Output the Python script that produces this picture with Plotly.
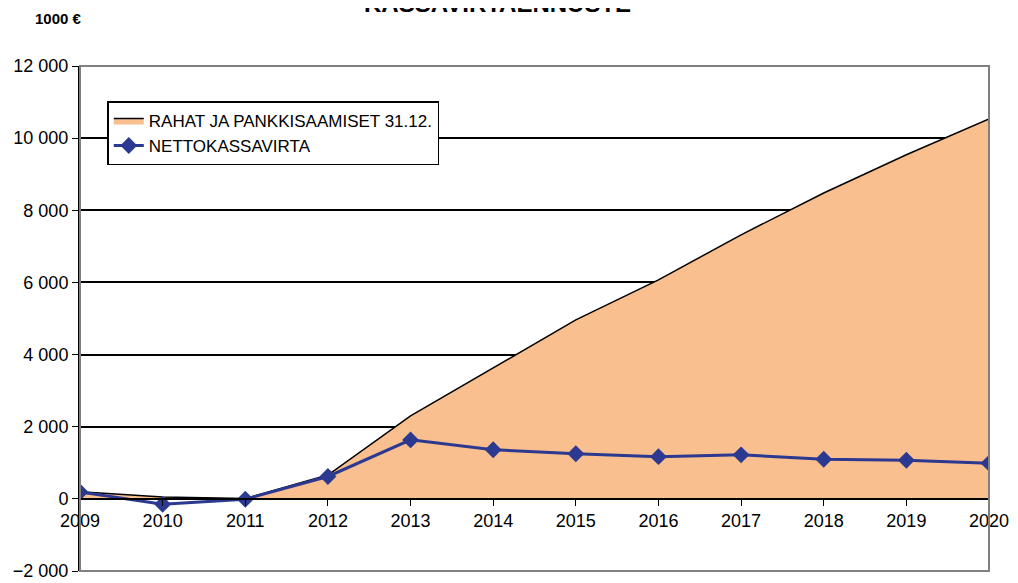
import plotly.graph_objects as go

years = [2009, 2010, 2011, 2012, 2013, 2014, 2015, 2016, 2017, 2018, 2019, 2020]
rahat = [200, 50, 10, 660, 2300, 3630, 4960, 6070, 7320, 8480, 9540, 10530]
netto = [190, -150, -10, 620, 1635, 1360, 1250, 1170, 1220, 1100, 1070, 990]
y_ticks = [-2000, 0, 2000, 4000, 6000, 8000, 10000, 12000]

font = "Liberation Sans, Arial, sans-serif"

fig = go.Figure()
fig.add_trace(go.Scatter(
    x = years, y = rahat,
    name = "RAHAT JA PANKKISAAMISET 31.12.",
    mode = "lines",
    fill = "tozeroy",
    fillcolor = "rgb(250, 191, 143)",
    line = dict(color = "black", width = 1.5),
))
fig.add_trace(go.Scatter(
    x = years, y = netto,
    name = "NETTOKASSAVIRTA",
    mode = "lines+markers",
    line = dict(color = "rgb(43, 57, 144)", width = 3),
    marker = dict(symbol = "diamond", size = 13, color = "rgb(43, 57, 144)"),
))

# grey frame of the plot area
fig.add_shape(type = "rect", xref = "paper", yref = "paper", x0 = 0, x1 = 1, y0 = 0, y1 = 1,
              line = dict(color = "rgb(128, 128, 128)", width = 2), layer = "above")

# title sits half above the top edge, as in the original
fig.add_annotation(text = "<b>KASSAVIRTAENNUSTE</b>", xref = "paper", yref = "paper",
                   x = 0.459, y = 1.093, xanchor = "center", yanchor = "bottom", showarrow = False,
                   font = dict(family = font, size = 24, color = "black"))
fig.add_annotation(text = "<b>1000 €</b>", xref = "paper", yref = "paper", x = -0.0517, y = 1.095,
                   xanchor = "left", yanchor = "middle", showarrow = False,
                   font = dict(family = font, size = 15, color = "black"))

fig.update_layout(
    width = 1010,
    height = 575,
    margin = dict(l = 72, r = 29, t = 58, b = 12),
    paper_bgcolor = "white",
    plot_bgcolor = "white",
    separators = ", ",
    font = dict(family = font, size = 18, color = "black"),
    xaxis = dict(
        range = [2009, 2020],
        tickvals = years,
        ticks = "outside", ticklen = 6, tickcolor = "black",
        showline = True, linecolor = "black", linewidth = 2,
        showgrid = False, zeroline = False, automargin = False,
        anchor = "free", position = 2000 / 14000,
        tickfont = dict(size = 18),
    ),
    yaxis = dict(
        range = [-2000, 12000],
        tickvals = y_ticks,
        tickformat = ",d",
        ticks = "outside", ticklen = 6, tickcolor = "black",
        showline = True, linecolor = "black", linewidth = 2,
        showgrid = True, gridcolor = "black", gridwidth = 1.5,
        zeroline = False, automargin = False,
        tickfont = dict(size = 18),
    ),
    legend = dict(
        x = 0.03, y = 0.93, xanchor = "left", yanchor = "top",
        bordercolor = "black", borderwidth = 1.5, bgcolor = "white",
        font = dict(size = 17), tracegroupgap = 0,
    ),
)

fig.write_html("out.html")
